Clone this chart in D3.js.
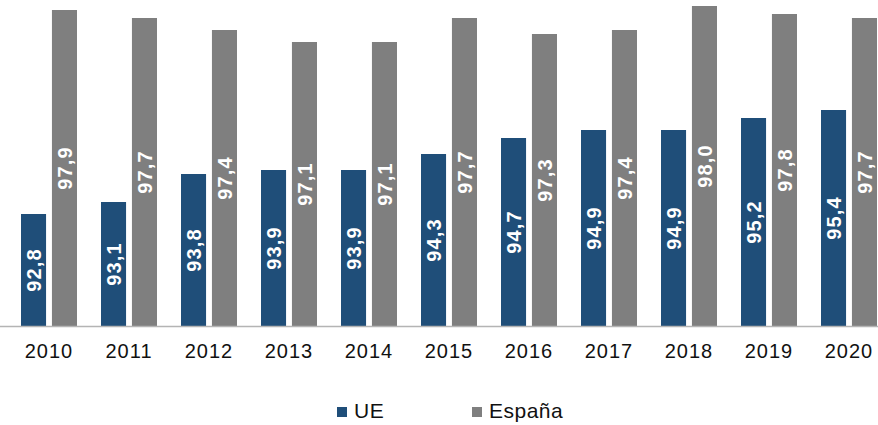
<!DOCTYPE html>
<html>
<head>
    <meta charset="UTF-8">
    <title>UE vs España</title>
    <style>
        body { margin: 0; background: #fff; }
        text { font-family: Arial, "Liberation Sans", sans-serif; }
        .year { font-size: 20px; fill: #111; letter-spacing: 1px; }
        .val { font-size: 20px; font-weight: bold; fill: #fff; letter-spacing: 1.2px; }
        .legend { font-size: 21px; fill: #111; letter-spacing: 0.5px; }
    </style>
    <script src="https://d3js.org/d3.v7.min.js"></script>
</head>
<body>
<div id="chart"></div>
<script>
    const years = ["2010","2011","2012","2013","2014","2015","2016","2017","2018","2019","2020"];
    const series = ["UE", "España"];
    const ue = [92.8, 93.1, 93.8, 93.9, 93.9, 94.3, 94.7, 94.9, 94.9, 95.2, 95.4];
    const espana = [97.9, 97.7, 97.4, 97.1, 97.1, 97.7, 97.3, 97.4, 98.0, 97.8, 97.7];
    const colors = ["#1F4E79", "#7F7F7F"];

    const width = 878, height = 425;
    const baseY = 326;

    const svg = d3.select("#chart").append("svg")
        .attr("width", width)
        .attr("height", height);

    const x0 = d3.scaleBand()
        .domain(years)
        .range([9, 889])
        .paddingInner(0.3)
        .paddingOuter(0.15);

    const x1 = d3.scaleBand()
        .domain(series)
        .range([0, x0.bandwidth()])
        .paddingInner(0.19)
        .paddingOuter(0);

    const y = d3.scaleLinear()
        .domain([90, 98.1])
        .range([baseY, 2]);

    const rows = years.map((yr, i) => ({year: yr, vals: [ue[i], espana[i]]}));

    const groups = svg.selectAll(".grp")
        .data(rows)
        .enter()
        .append("g")
            .attr("class", "grp")
            .attr("transform", d => `translate(${x0(d.year)},0)`);

    const cells = groups.selectAll(".cell")
        .data(d => d.vals.map((v, k) => ({s: series[k], v: v, k: k})))
        .enter()
        .append("g")
            .attr("class", "cell");

    cells.append("rect")
        .attr("x", d => x1(d.s))
        .attr("y", d => y(d.v))
        .attr("width", x1.bandwidth())
        .attr("height", d => baseY - y(d.v))
        .attr("fill", d => colors[d.k]);

    cells.append("text")
        .attr("class", "val")
        .attr("text-anchor", "middle")
        .attr("dy", "0.36em")
        .attr("transform", d => {
            const cx = x1(d.s) + x1.bandwidth() / 2;
            const cy = (y(d.v) + baseY) / 2;
            return `translate(${cx},${cy}) rotate(-90)`;
        })
        .text(d => d3.format(".1f")(d.v).replace(".", ","));

    // axis line
    svg.append("line")
        .attr("x1", 0)
        .attr("x2", width)
        .attr("y1", baseY + 0.5)
        .attr("y2", baseY + 0.5)
        .attr("stroke", "#b4b4b4")
        .attr("stroke-width", 1.5);

    // year labels
    const xAxis = svg.append("g")
        .attr("transform", `translate(0,${baseY})`)
        .call(d3.axisBottom(x0).tickSize(0).tickPadding(0));
    xAxis.select(".domain").remove();
    xAxis.selectAll("text")
        .attr("class", "year")
        .attr("y", 32)
        .attr("dy", 0)
        .attr("font-family", null)
        .attr("font-size", null);

    // legend
    const legX = [337, 472];
    const leg = svg.selectAll(".leg")
        .data(series)
        .enter()
        .append("g")
            .attr("class", "leg")
            .attr("transform", (d, i) => `translate(${legX[i]},407)`);
    leg.append("rect")
        .attr("width", 10)
        .attr("height", 10)
        .attr("fill", (d, i) => colors[i]);
    leg.append("text")
        .attr("class", "legend")
        .attr("x", 17)
        .attr("y", 11)
        .text(d => d);
</script>
</body>
</html>
